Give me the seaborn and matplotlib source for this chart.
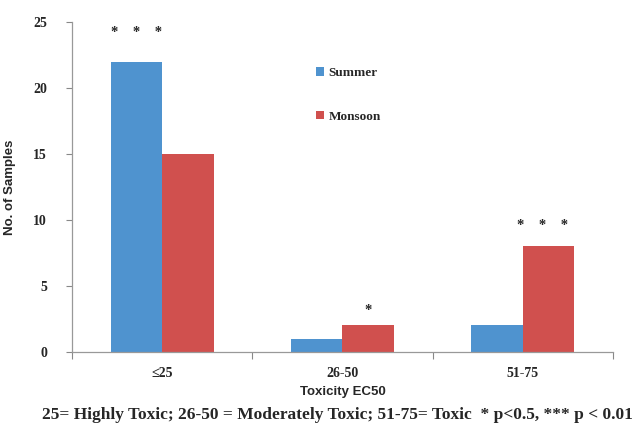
import matplotlib
matplotlib.use("Agg")
import matplotlib.pyplot as plt
import seaborn as sns
import pandas as pd
from matplotlib.ticker import FixedLocator

categories = ["\u226425", "26-50", "51-75"]
summer = [22, 1, 2]
monsoon = [15, 2, 8]
series_names = ["Summer", "Monsoon"]
stars = ["*    *    *", "*", "*    *    *"]
star_y = [24.2, 3.1, 9.6]
star_x_offset = [-0.14, 0.14, 0.11]

df = pd.DataFrame({
    "cat": categories * 2,
    "val": summer + monsoon,
    "season": [series_names[0]] * 3 + [series_names[1]] * 3,
})

sns.set_theme(style="white")
plt.rcParams["font.family"] = ["Liberation Serif", "DejaVu Serif"]

fig = plt.figure(figsize=(6.37, 4.26), dpi=100)
ax = fig.add_axes([0.113, 0.174, 0.849, 0.774])

colors = ["#4F93CF", "#D0504E"]
sns.barplot(data=df, x="cat", y="val", hue="season", palette=colors,
            width=0.572, saturation=1, ax=ax, legend=True, linewidth=0)

ax.set_ylim(0, 25)
ax.set_xlim(-0.5, 2.5)
ax.set_yticks([0, 5, 10, 15, 20, 25])
ax.set_yticklabels(["0", "5", "10", "15", "20", "25"], fontweight="bold", fontsize=10)
ax.set_xticks([0, 1, 2])
ax.set_xticklabels(categories, fontweight="bold", fontsize=10)
ax.xaxis.set_minor_locator(FixedLocator([-0.5, 0.5, 1.5, 2.5]))
ax.tick_params(axis="x", which="major", length=0, pad=11)
ax.tick_params(axis="x", which="minor", length=5, color="#888888", width=0.8, direction="out", bottom=True)
ax.tick_params(axis="y", length=4, color="#888888", width=0.8, direction="out", left=True, pad=14)

for s in ["top", "right"]:
    ax.spines[s].set_visible(False)
for s in ["left", "bottom"]:
    ax.spines[s].set_color("#999999")
    ax.spines[s].set_linewidth(0.9)

ax.set_ylabel("No. of Samples", fontweight="bold", fontsize=9.5,
              family=["Liberation Sans", "DejaVu Sans"], labelpad=12)
ax.set_xlabel("Toxicity EC50", fontweight="bold", fontsize=9.5,
              family=["Liberation Sans", "DejaVu Sans"], labelpad=4)

for i, (s, yv, dx) in enumerate(zip(stars, star_y, star_x_offset)):
    ax.text(i + dx, yv, s, ha="center", va="center", fontsize=10.5, fontweight="bold")

leg = ax.legend(loc="upper left", bbox_to_anchor=(0.43, 0.90), frameon=False,
                handlelength=0.6, handleheight=0.6, handletextpad=0.3,
                labelspacing=2.4, prop={"weight": "bold", "size": 9.5})

fig.text(0.529, 0.008, "25= Highly Toxic; 26-50 = Moderately Toxic; 51-75= Toxic  * p<0.5, *** p < 0.01",
         ha="center", va="bottom", fontsize=12.5, fontweight="bold")

fig.savefig("out.png", dpi=100)
